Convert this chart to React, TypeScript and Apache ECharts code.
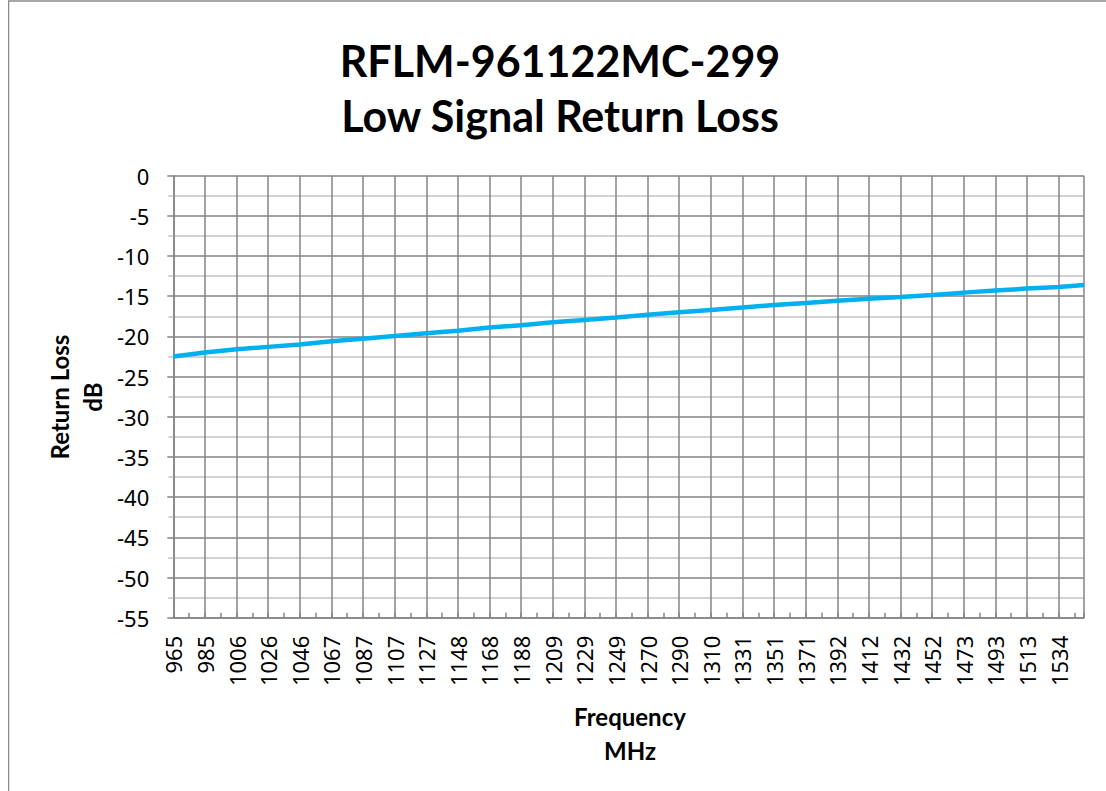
import React, { useEffect, useRef } from 'react';
import * as echarts from 'echarts';

const TITLE_LINES = ['RFLM-961122MC-299', 'Low Signal Return Loss'];
const X_NAME_LINES = ['Frequency', 'MHz'];
const Y_NAME_LINES = ['Return Loss', 'dB'];

const FREQ_MIN = 965;
const FREQ_MAX = 1550;
const FREQ_STEP = 20.3113;

// Return loss axis (dB)
const RL_MIN = -55;
const RL_MAX = 0;
const RL_STEP = 5;

// Measured points (MHz)
const FREQ_MHZ = [
  965, 985.31, 1005.62, 1025.93, 1046.25, 1066.56, 1086.87, 1107.18, 1127.49, 1147.8,
  1168.11, 1188.42, 1208.74, 1229.05, 1249.36, 1269.67, 1289.98, 1310.29, 1330.6, 1350.91,
  1371.23, 1391.54, 1411.85, 1432.16, 1452.47, 1472.78, 1493.09, 1513.41, 1533.72, 1550,
];
// Return loss (dB)
const RETURN_LOSS_DB = [
  -22.5, -22.0, -21.6, -21.3, -21.0, -20.6, -20.3, -19.95, -19.6, -19.3,
  -18.9, -18.6, -18.25, -17.95, -17.65, -17.3, -17.0, -16.7, -16.4, -16.1,
  -15.85, -15.55, -15.3, -15.1, -14.85, -14.55, -14.3, -14.05, -13.85, -13.6,
];

const GRID_DARK = '#858585';
const GRID_LIGHT = '#c3c3c3';
const LINE_COLOR = '#00B0F0';
const TICK_FONT = 'Noto Sans';
const TITLE_FONT = 'Lato';

export default function App() {
  const ref = useRef<HTMLDivElement>(null);

  useEffect(() => {
    if (!ref.current) return;
    const chart = echarts.init(ref.current, undefined, { renderer: 'svg' });
    const data = FREQ_MHZ.map((f, i) => [f, RETURN_LOSS_DB[i]]);

    const boldText = (size: number) => ({
      fontFamily: TITLE_FONT,
      fontWeight: 'bold' as const,
      fontSize: size,
      fill: '#000',
      textAlign: 'center' as const,
      textVerticalAlign: 'middle' as const,
      align: 'center' as const,
      verticalAlign: 'middle' as const,
    });

    chart.setOption({
      animation: false,
      backgroundColor: '#ffffff',
      grid: {
        left: 165.3,
        top: 175.7,
        right: 22,
        bottom: 173.3,
        containLabel: false,
        outerBoundsMode: 'none',
      },
      graphic: [
        {
          type: 'rect',
          silent: true,
          shape: { x: 0.5, y: 1, width: 1300, height: 1000 },
          style: { fill: 'none', stroke: '#8a8a8a', lineWidth: 1.5 },
        },
        { type: 'text', x: 552, y: 60, style: { text: TITLE_LINES[0], ...boldText(43) } },
        { type: 'text', x: 552, y: 115, style: { text: TITLE_LINES[1], ...boldText(43) } },
        { type: 'text', x: 622, y: 716, style: { text: X_NAME_LINES[0], ...boldText(24) } },
        { type: 'text', x: 622, y: 750, style: { text: X_NAME_LINES[1], ...boldText(24) } },
        {
          type: 'text',
          x: 51,
          y: 397,
          rotation: Math.PI / 2,
          style: { text: Y_NAME_LINES[0], ...boldText(24) },
        },
        {
          type: 'text',
          x: 84,
          y: 397,
          rotation: Math.PI / 2,
          style: { text: Y_NAME_LINES[1], ...boldText(24) },
        },
      ],
      xAxis: {
        type: 'value',
        min: FREQ_MIN,
        max: FREQ_MAX,
        interval: FREQ_STEP,
        axisLine: { show: true, onZero: false, lineStyle: { color: GRID_DARK, width: 1.5 } },
        axisTick: { show: true, inside: true, length: 5, lineStyle: { color: GRID_DARK, width: 1.5 } },
        minorTick: { show: true, splitNumber: 2, length: 5, lineStyle: { color: GRID_DARK, width: 1.5 } },
        splitLine: { show: true, lineStyle: { color: GRID_DARK, width: 1.5 } },
        minorSplitLine: { show: false },
        axisLabel: {
          rotate: 90,
          margin: 18,
          fontFamily: TICK_FONT,
          fontSize: 22,
          color: '#000',
          hideOverlap: false,
          showMaxLabel: false,
          formatter: (v: number) => (v > FREQ_MAX - 10 ? '' : String(Math.round(v))),
        },
      },
      yAxis: {
        type: 'value',
        min: RL_MIN,
        max: RL_MAX,
        interval: RL_STEP,
        axisLine: { show: true, onZero: false, lineStyle: { color: GRID_DARK, width: 1.5 } },
        axisTick: { show: true, inside: false, length: 6, lineStyle: { color: GRID_DARK, width: 1.5 } },
        minorTick: { show: true, splitNumber: 2, length: 5, lineStyle: { color: GRID_LIGHT, width: 1.5 } },
        splitLine: { show: true, lineStyle: { color: GRID_DARK, width: 1.5 } },
        minorSplitLine: { show: true, lineStyle: { color: GRID_LIGHT, width: 1.5 } },
        axisLabel: {
          margin: 24,
          fontFamily: TICK_FONT,
          fontSize: 22,
          color: '#000',
        },
      },
      series: [
        {
          type: 'line',
          data,
          showSymbol: false,
          symbol: 'none',
          lineStyle: { color: LINE_COLOR, width: 4.5 },
          z: 10,
        },
      ],
    });

    return () => chart.dispose();
  }, []);

  return (
    <div
      ref={ref}
      style={{ position: 'absolute', left: 8, top: 0, width: 1098, height: 791 }}
    />
  );
}
